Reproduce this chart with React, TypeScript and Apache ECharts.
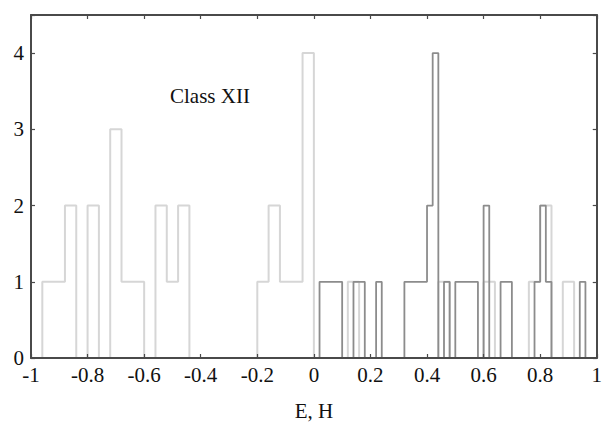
import { useEffect, useRef } from 'react';
import * as echarts from 'echarts';

// Tick positions along the horizontal axis
const X_TICKS = [-1, -0.8, -0.6, -0.4, -0.2, 0, 0.2, 0.4, 0.6, 0.8, 1];
const Y_TICKS = [0, 1, 2, 3, 4];

// E distribution: 0.04-wide bins starting at -1
const E_START = -1;
const E_WIDTH = 0.04;
const E_COUNTS = [
  0, 1, 1, 2, 0, 2, 0, 3, 1, 1,
  0, 2, 1, 2, 0, 0, 0, 0, 0, 0,
  1, 2, 1, 1, 4, 0, 0, 0, 1, 0,
  0, 0, 0, 0, 0, 0, 1, 0, 0, 0,
  1, 0, 0, 0, 1, 2, 0, 1, 0, 0,
];

// H distribution: 0.02-wide bins starting at 0
const H_START = 0;
const H_WIDTH = 0.02;
const H_COUNTS = [
  0, 1, 1, 1, 1, 0, 0, 1, 1, 0,
  0, 1, 0, 0, 0, 0, 1, 1, 1, 1,
  2, 4, 0, 1, 0, 1, 1, 1, 1, 0,
  2, 0, 0, 1, 1, 0, 0, 0, 0, 1,
  2, 1, 0, 0, 0, 0, 0, 1, 0, 0,
];

const LABEL = 'Class XII';
const AXIS_NAME = 'E, H';

const r4 = (v: number) => Math.round(v * 10000) / 10000;

// Outline of a histogram as a polyline through the bin edges
function stepOutline(start: number, width: number, counts: number[]) {
  const pts: number[][] = [[r4(start), 0]];
  counts.forEach((c, i) => {
    const x0 = r4(start + i * width);
    const x1 = r4(start + (i + 1) * width);
    pts.push([x0, c], [x1, c]);
  });
  pts.push([r4(start + counts.length * width), 0]);
  return pts;
}

const FONT = '"Liberation Serif", "Times New Roman", "DejaVu Serif", serif';
const AXIS_COLOR = '#4a4a4a';

export default function App() {
  const ref = useRef<HTMLDivElement>(null);

  useEffect(() => {
    document.body.style.margin = '0';
    if (!ref.current) return;
    const chart = echarts.init(ref.current, undefined, { renderer: 'svg' });

    const fmtX = (v: number) => {
      const t = Math.round(v * 10) / 10;
      return X_TICKS.some((k) => Math.abs(k - t) < 1e-9) ? String(t) : '';
    };
    const fmtY = (v: number) => (Y_TICKS.includes(v) ? String(v) : '');

    const axisLine = { show: true, onZero: false, lineStyle: { color: AXIS_COLOR, width: 2 } };
    const tickStyle = { show: true, inside: true, length: 4, lineStyle: { color: AXIS_COLOR, width: 1.2 } };

    chart.setOption({
      animation: false,
      grid: { left: 31, right: 7, top: 15, bottom: 67 },
      xAxis: [
        {
          type: 'value',
          position: 'bottom',
          min: -1,
          max: 1,
          interval: 0.2,
          z: 5,
          axisLine,
          axisTick: tickStyle,
          splitLine: { show: false },
          axisLabel: { color: '#111', fontFamily: FONT, fontSize: 21, margin: 6, formatter: fmtX },
          name: AXIS_NAME,
          nameLocation: 'middle',
          nameGap: 42,
          nameTextStyle: { color: '#111', fontFamily: FONT, fontSize: 21 },
        },
        {
          type: 'value',
          position: 'top',
          min: -1,
          max: 1,
          interval: 0.2,
          z: 5,
          axisLine,
          axisTick: tickStyle,
          splitLine: { show: false },
          axisLabel: { show: false },
        },
      ],
      yAxis: [
        {
          type: 'value',
          position: 'left',
          min: 0,
          max: 4.5,
          interval: 1,
          z: 5,
          axisLine,
          axisTick: tickStyle,
          splitLine: { show: false },
          axisLabel: { color: '#111', fontFamily: FONT, fontSize: 21, margin: 7, formatter: fmtY },
        },
        {
          type: 'value',
          position: 'right',
          min: 0,
          max: 4.5,
          interval: 1,
          z: 5,
          axisLine,
          axisTick: tickStyle,
          splitLine: { show: false },
          axisLabel: { show: false },
        },
      ],
      series: [
        {
          name: 'E',
          type: 'line',
          xAxisIndex: 0,
          yAxisIndex: 0,
          data: stepOutline(E_START, E_WIDTH, E_COUNTS),
          showSymbol: false,
          symbol: 'none',
          lineStyle: { color: '#d6d6d6', width: 2 },
          z: 2,
        },
        {
          name: 'H',
          type: 'line',
          xAxisIndex: 0,
          yAxisIndex: 0,
          data: stepOutline(H_START, H_WIDTH, H_COUNTS),
          showSymbol: false,
          symbol: 'none',
          lineStyle: { color: '#8c8c8c', width: 1.8 },
          z: 3,
        },
      ],
      graphic: [
        {
          type: 'text',
          x: 170,
          y: 96,
          style: {
            text: LABEL,
            fontFamily: FONT,
            fontSize: 21,
            fill: '#111',
            textVerticalAlign: 'middle',
          },
        },
      ],
    });

    return () => chart.dispose();
  }, []);

  return <div ref={ref} style={{ width: 605, height: 426 }} />;
}
